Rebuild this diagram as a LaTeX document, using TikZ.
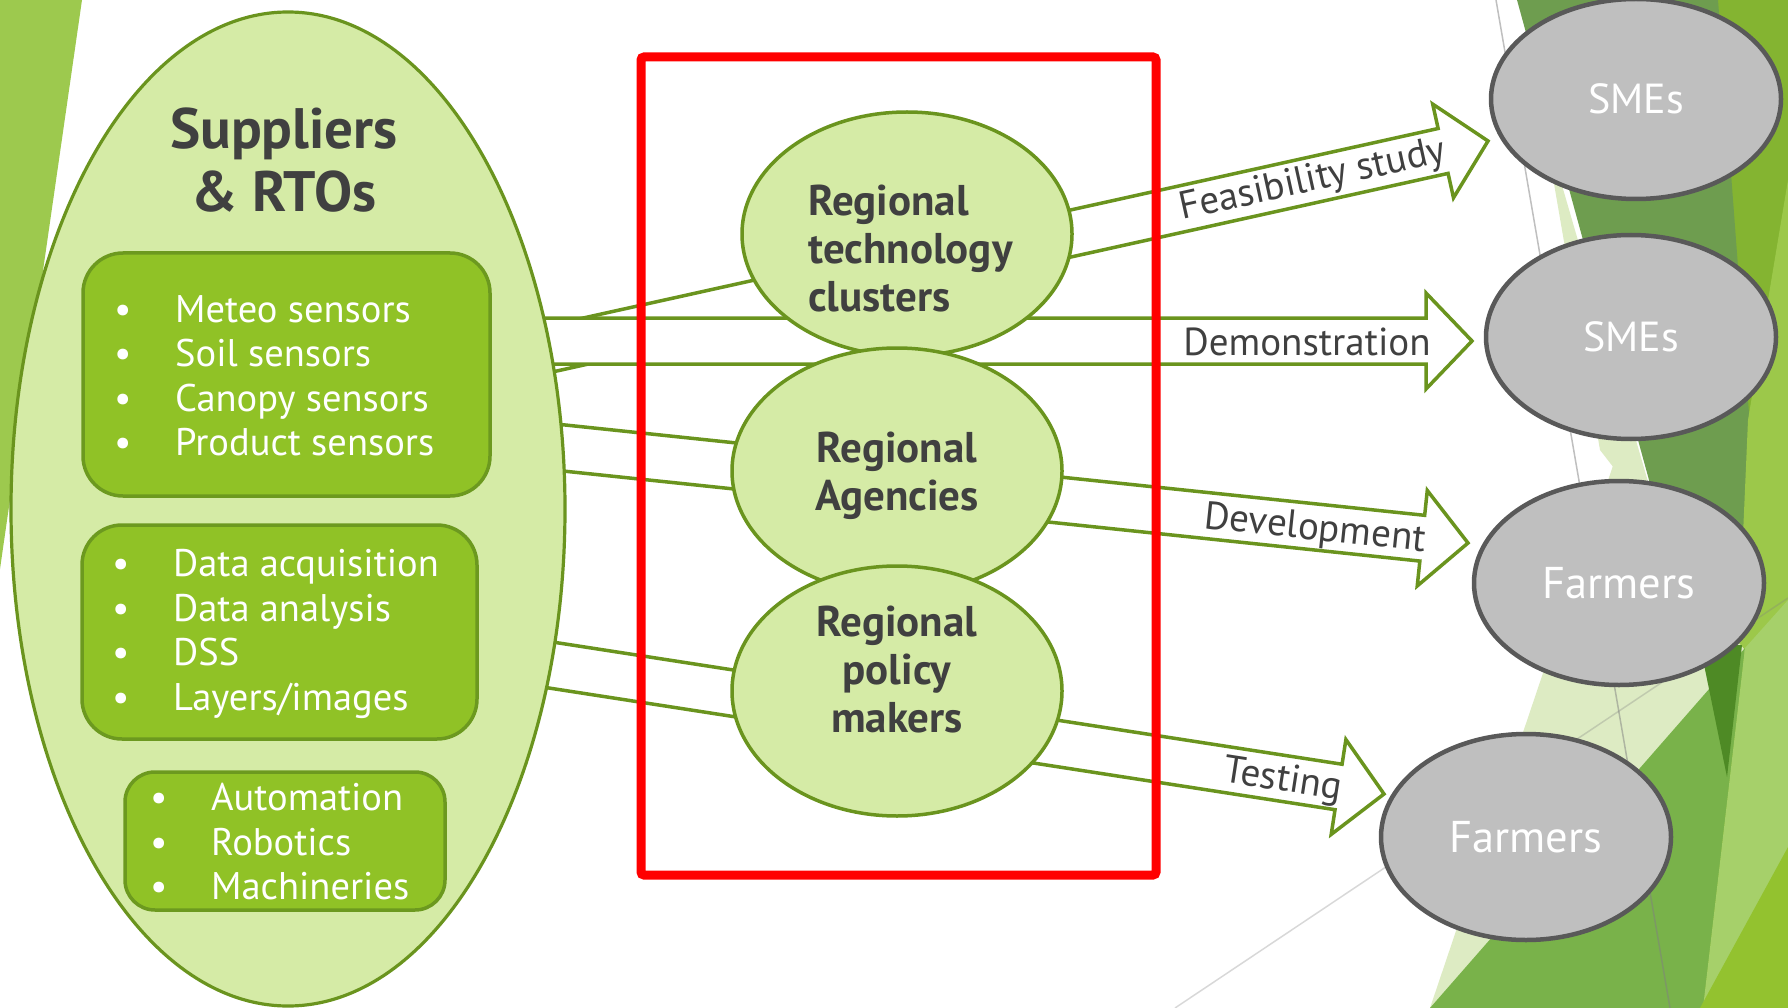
\documentclass[tikz,border=0pt]{standalone}
\usepackage{fontspec}
\setmainfont{PT Sans}
\usetikzlibrary{shapes.geometric}
\definecolor{cLight}{HTML}{D5EBA6}
\definecolor{cOut}{HTML}{6A941E}
\definecolor{cBox}{HTML}{90C226}
\definecolor{cBoxB}{HTML}{6C991F}
\definecolor{cTxt}{HTML}{404040}
\definecolor{cGray}{HTML}{BFBFBF}
\definecolor{cGrayB}{HTML}{595959}
\definecolor{cBgL}{HTML}{9DC94E}
\definecolor{cDark}{HTML}{6E9D4F}
\definecolor{cOlv}{HTML}{84B431}
\definecolor{cLStrip}{HTML}{9CC84A}
\definecolor{cPale}{HTML}{DDEBC3}
\definecolor{cMed}{HTML}{79B24A}
\definecolor{cSpike}{HTML}{4E8A25}
\definecolor{cLRight}{HTML}{A6D06A}
\definecolor{cBright}{HTML}{93C22F}
\newcommand{\blt}{\makebox[61pt][l]{\textbullet}}
\newcommand{\bArrow}[3]{%
  \begin{scope}[shift={(#1)}, rotate=#2]
    \draw[barrow] (0,0) -- (-46,-48) -- (-46,-23) -- (-#3,-23) -- (-#3,23) -- (-46,23) -- (-46,48) -- cycle;
  \end{scope}}
\begin{document}
\begin{tikzpicture}[x=1pt,y=-1pt,
  lg/.style={ellipse, draw=cOut, fill=cLight, line width=3.2pt, inner sep=0pt},
  gbox/.style={rounded corners=40pt, draw=cBoxB, fill=cBox, line width=3.5pt, inner sep=0pt},
  gry/.style={ellipse, draw=cGrayB, fill=cGray, line width=4.5pt, inner sep=0pt, text=white},
  barrow/.style={draw=cOut, fill=white, line width=3.5pt, line join=miter},
  lbl/.style={text=cTxt, font=\fontsize{39}{44}\selectfont, inner sep=0pt},
  btxt/.style={text=white, font=\fontsize{38.5}{44.5}\selectfont, align=left, inner sep=0pt, anchor=west},
  rtxt/.style={text=cTxt, font=\bfseries\fontsize{43}{48}\selectfont, inner sep=0pt},
  ttl/.style={text=cTxt, font=\bfseries\fontsize{57}{63}\selectfont, align=center, inner sep=0pt}]
\useasboundingbox (0,0) rectangle (1788,1008);
\fill[white] (0,0) rectangle (1788,1008);
% ---- background decoration ----
\fill[cBgL] (0,0) -- (82,0) -- (0,569) -- cycle;
\fill[cOlv] (1690,0) -- (1788,0) -- (1788,1008) -- (1690,1008) -- cycle;
\fill[cDark] (1517,0) -- (1718,0) -- (1760,560) -- (1745,650) -- (1660,520) -- cycle;
\fill[cLStrip] (1788,180) -- (1788,850) -- (1738,650) -- (1748,420) -- cycle;
\fill[cPale] (1543,120) -- (1662,530) -- (1600,450) -- cycle;
\fill[cPale] (1430,1008) -- (1625,430) -- (1700,600) -- (1745,650) -- (1600,1008) -- cycle;
\draw[gray, opacity=0.3, line width=1.5pt] (1175,1008) -- (1788,598);
\fill[cMed] (1430,1008) -- (1745,648) -- (1703,1008) -- cycle;
\fill[cSpike] (1700,645) -- (1742,645) -- (1727,777) -- cycle;
\fill[cLRight] (1745,648) -- (1788,600) -- (1788,1008) -- (1703,1008) -- cycle;
\fill[cBright] (1700,1008) -- (1788,847) -- (1788,1008) -- cycle;
\draw[gray, opacity=0.5, line width=1.5pt] (1496,0) -- (1670,1008);
% ---- block arrows ----
\coordinate (tipF) at (1488,141);
\coordinate (tipD) at (1472,341);
\coordinate (tipV) at (1468,543);
\coordinate (tipT) at (1384,794);
\bArrow{tipF}{12.5}{1022}
\bArrow{tipD}{0}{992}
\bArrow{tipV}{-6}{993}
\bArrow{tipT}{-8.8}{915}
\node[lbl, rotate=12.5] (lF) at (1313,181) {Feasibility study};
\node[lbl] (lD) at (1307,342) {Demonstration};
\node[lbl, rotate=-6] (lV) at (1315,530) {Development};
\node[lbl, rotate=-8.8] (lT) at (1283,781) {Testing};
% ---- suppliers ----
\node[lg, minimum width=554, minimum height=994] (sup) at (288,509) {};
\node[ttl] (title) at (284,160) {Suppliers\\\& RTOs};
\node[gbox, minimum width=407, minimum height=243] (b1) at (286.5,374.5) {};
\node[btxt] (t1) at (114,376) {\blt Meteo sensors\\\blt Soil sensors\\\blt Canopy sensors\\\blt Product sensors};
\node[gbox, minimum width=395, minimum height=214] (b2) at (279.5,632) {};
\node[btxt] (t2) at (112,634) {\blt Data acquisition\\\blt Data analysis\\\blt DSS\\\blt Layers/images};
\node[gbox, minimum width=320, minimum height=138, rounded corners=30pt] (b3) at (285,841) {};
\node[btxt] (t3) at (150,842) {\blt Automation\\\blt Robotics\\\blt Machineries};
% ---- regional ellipses ----
\node[lg, line width=3.5pt, minimum width=330, minimum height=244] (rtc) at (907,234) {};
\node[lg, line width=3.5pt, minimum width=330, minimum height=246] (ra) at (897,471) {};
\node[lg, line width=3.5pt, minimum width=330, minimum height=250] (rpm) at (897,691) {};
\node[rtxt, align=left, anchor=west] (trtc) at (808,249) {Regional\\technology\\clusters};
\node[rtxt, align=center] (tra) at (897,476) {Regional\\Agencies};
\node[rtxt, align=center] (trpm) at (897,670) {Regional\\policy\\makers};
% ---- red frame ----
\draw[red, line width=9pt, rounded corners=3pt] (641,57) rectangle (1156,875);
% ---- target ellipses ----
\node[gry, minimum width=290, minimum height=200, font=\fontsize{42}{48}\selectfont] (sme1) at (1636,99) {SMEs};
\node[gry, minimum width=290, minimum height=204, font=\fontsize{42}{48}\selectfont] (sme2) at (1631,337) {SMEs};
\node[gry, minimum width=290, minimum height=204, font=\fontsize{44.5}{48}\selectfont] (far1) at (1619,583) {Farmers};
\node[gry, minimum width=290, minimum height=206, font=\fontsize{44.5}{48}\selectfont] (far2) at (1526,837) {Farmers};
\end{tikzpicture}
\end{document}
